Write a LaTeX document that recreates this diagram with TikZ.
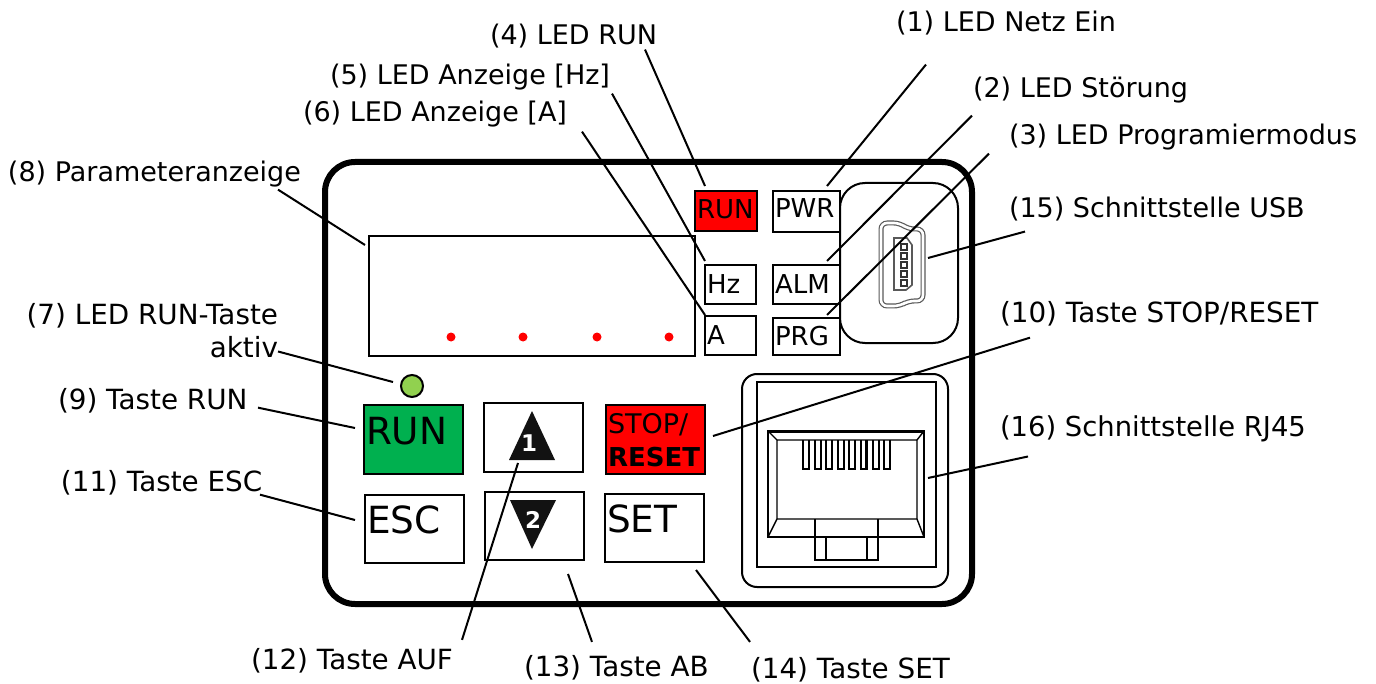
\documentclass[tikz,border=0pt]{standalone}
\usepackage{fontspec}
\setmainfont{DejaVu Sans}
\definecolor{led red}{rgb}{1, 0, 0}
\definecolor{key green}{rgb}{0, 0.69, 0.31}
\definecolor{led green}{rgb}{0.57, 0.82, 0.31}
\definecolor{arrow black}{rgb}{0.07, 0.07, 0.07}
\tikzset{
	lab/.style = {font=\fontsize{13.5}{16.5}\selectfont, inner sep=0pt, outer sep=0pt},
	wide lab/.style = {lab, font=\fontsize{13.9}{16.5}\selectfont},
	leader/.style = {line width=1pt},
	tbox/.style n args = {3}{text width=#1, text height=#2, text depth=#3},
	ledbox/.style = {draw, line width=1pt, font=\fontsize{13}{15}\selectfont, anchor=north west,
		inner xsep=1pt, inner ysep=0pt, outer sep=0pt, align=left},
	keybox/.style = {ledbox, font=\fontsize{18.7}{20}\selectfont},
	digit/.style = {text=white, font=\fontsize{11.5}{12}\bfseries\selectfont, inner sep=0pt}
}
\begin{document}
\begin{tikzpicture}[x=0.5pt, y=-0.5pt]
		\useasboundingbox (0, 0) rectangle (1376, 684);
		% housing
		\draw[line width=3pt, rounded corners=15pt] (325, 162) rectangle (972, 604);
		% display and its dots
		\draw[line width=1pt] (369, 236) rectangle (695, 356);
		\foreach \x in {451, 523, 597, 669}
			\fill[led red] (\x, 337) circle (4.5);
		% usb socket
		\begin{scope}
			\draw[line width=1pt, rounded corners=12.5pt] (840, 183) rectangle (958, 343);
			\draw[gray!70!black, line width=0.6pt, double=white, double distance=1.3pt, rounded corners=3pt]
				(881, 223) -- (900, 223) -- (908, 229) -- (923, 229) -- (923, 301)
				-- (908, 301) -- (900, 306) -- (881, 306) -- cycle;
			\draw[gray!70!black, line width=0.8pt]
				(894, 238) -- (907, 238) -- (912, 245) -- (912, 285) -- (906, 290) -- (894, 290) -- cycle;
			\foreach \y in {244, 253, 262, 271, 280}
				\draw[gray!40!black, line width=0.7pt] (901, \y) rectangle (907, \y + 6);
		\end{scope}
		% rj45 socket
		\begin{scope}
			\draw[line width=1pt, rounded corners=7.5pt] (742, 374) rectangle (948, 587);
			\draw[line width=1.3pt] (757, 382) rectangle (936, 567);
			\draw[line width=0.7pt] (768, 431) rectangle (924, 537);
			\draw[line width=0.7pt]
				(777, 440) rectangle (917, 519)
				(768, 431) -- (777, 440)
				(924, 431) -- (917, 440)
				(768, 537) -- (777, 519)
				(924, 537) -- (917, 519);
			\draw[line width=1.4pt] (768, 432) -- (924, 432);
			\foreach \x in {803, 815, 826, 838, 849, 861, 873, 884}
				\draw[line width=0.6pt] (\x, 440) -- (\x, 469) -- (\x + 6, 469) -- (\x + 6, 440);
			\draw[line width=1.2pt] (832, 440) -- (832, 469) (849, 440) -- (849, 469) (866, 440) -- (866, 469);
			\draw[line width=0.7pt]
				(815, 519) -- (815, 561)
				(878, 519) -- (878, 561)
				(826, 537) -- (826, 561)
				(815, 560) -- (878, 560);
			\draw[line width=1.2pt] (867, 537) -- (867, 561);
		\end{scope}
		% small boxes with the leds
		\node[ledbox, fill=led red, tbox={29pt}{14pt}{6pt}] (ledrun) at (695, 191) {RUN};
		\node[ledbox, fill=white, tbox={31.5pt}{13.5pt}{7pt}] (ledpwr) at (773, 191) {PWR};
		\node[ledbox, fill=white, tbox={23.5pt}{14pt}{5.5pt}] (ledhz) at (705, 265) {Hz};
		\node[ledbox, fill=white, tbox={31.5pt}{14pt}{5.5pt}] (ledalm) at (773, 265) {ALM};
		\node[ledbox, fill=white, tbox={23.5pt}{14pt}{5.5pt}] (leda) at (705, 316) {A};
		\node[ledbox, fill=white, tbox={31.5pt}{13.5pt}{5pt}] (ledprg) at (773, 318) {PRG};
		% keys
		\fill[led green] (412, 386) circle (11);
		\draw[line width=1pt] (412, 386) circle (11);
		\node[keybox, fill=key green, tbox={47.5pt}{19.5pt}{15pt}] (keyrun) at (364, 405) {RUN};
		\node[keybox, tbox={47.5pt}{19.5pt}{15pt}] (keyup) at (484, 403) {};
		\node[keybox, fill=led red, font=\fontsize{13.5}{16.5}\selectfont, tbox={47.5pt}{14pt}{20.5pt}] (keystop) at (606, 405)
			{STOP/\\{\fontsize{13}{16.5}\bfseries\selectfont RESET}};
		\node[keybox, tbox={47.5pt}{19pt}{15pt}] (keyesc) at (365, 495) {ESC};
		\node[keybox, tbox={47.5pt}{19pt}{15pt}] (keydown) at (485, 492) {};
		\node[keybox, tbox={47.5pt}{19pt}{15pt}] (keyset) at (605, 494) {SET};
		% arrows on the keys
		\fill[arrow black] (532, 411) -- (555, 460) -- (509, 460) -- cycle;
		\fill[arrow black] (510, 500) -- (556, 500) -- (532, 549) -- cycle;
		\node[digit] (digitup) at (529, 443) {1};
		\node[digit] (digitdown) at (533, 520) {2};
		% labels
		\node[lab, anchor=base west] (l1) at (896, 32) {(1) LED Netz Ein};
		\node[lab, anchor=base west] (l2) at (973, 98) {(2) LED Störung};
		\node[lab, anchor=base west] (l3) at (1009, 145) {(3) LED Programiermodus};
		\node[lab, anchor=base west] (l4) at (490, 45) {(4) LED RUN};
		\node[lab, anchor=base west] (l5) at (330, 85) {(5) LED Anzeige [Hz]};
		\node[lab, anchor=base west] (l6) at (303, 122) {(6) LED Anzeige [A]};
		\node[wide lab, anchor=north east, align=right] (l7) at (278, 303) {(7) LED RUN-Taste\\aktiv};
		\node[lab, anchor=base west] (l8) at (8, 182) {(8) Parameteranzeige};
		\node[wide lab, anchor=base west] (l9) at (58, 409) {(9) Taste RUN};
		\node[wide lab, anchor=base west] (l10) at (1000, 322) {(10) Taste STOP/RESET};
		\node[wide lab, anchor=base west] (l11) at (61, 491) {(11) Taste ESC};
		\node[wide lab, anchor=base west] (l12) at (251, 669) {(12) Taste AUF};
		\node[wide lab, anchor=base west] (l13) at (524, 676) {(13) Taste AB};
		\node[wide lab, anchor=base west] (l14) at (751, 678) {(14) Taste SET};
		\node[lab, anchor=base west] (l15) at (1009, 218) {(15) Schnittstelle USB};
		\node[lab, font=\fontsize{13.7}{16.5}\selectfont, anchor=base west] (l16) at (1000, 436) {(16) Schnittstelle RJ45};
		% free ends of the leaders
		\coordinate (t1) at ([shift={(54, -5)}]ledpwr.north west);
		\coordinate (t2) at ([shift={(54, -4)}]ledalm.north west);
		\coordinate (t3) at ([shift={(54, -3)}]ledprg.north west);
		\coordinate (t4) at ([shift={(10, -5)}]ledrun.north west);
		\coordinate (t5) at ([shift={(0, -4)}]ledhz.north west);
		\coordinate (t6) at ([shift={(0, -1)}]leda.north west);
		\coordinate (t7) at (393, 382);
		\coordinate (t8) at (365, 245);
		\coordinate (t9) at ([shift={(-9, 23)}]keyrun.north west);
		\coordinate (t10) at ([shift={(8, 31)}]keystop.north east);
		\coordinate (t11) at ([shift={(-10, 25)}]keyesc.north west);
		\coordinate (t12) at (518, 463);
		\coordinate (t13) at ([shift={(-16, 14)}]keydown.south east);
		\coordinate (t14) at ([shift={(-8, 8)}]keyset.south east);
		\coordinate (t15) at (928, 258);
		\coordinate (t16) at (928, 478);
		% leaders
		\draw[leader]
			([shift={(30, 29)}]l1.south west) -- (t1)
			([shift={(-1, 12)}]l2.south west) -- (t2)
			([shift={(-20, 3)}]l3.south west) -- (t3)
			([shift={(155, 1)}]l4.south west) -- (t4)
			([shift={(282, 3)}]l5.south west) -- (t5)
			([shift={(279, 4)}]l6.south west) -- (t6)
			([shift={(0, -6)}]l7.south east) -- (t7)
			([shift={(270, 2)}]l8.south west) -- (t8)
			([shift={(200, -5)}]l9.south west) -- (t9)
			([shift={(30, 12)}]l10.south west) -- (t10)
			([shift={(199, 0)}]l11.south west) -- (t11)
			([shift={(211, -8)}]l12.north west) -- (t12)
			([shift={(68, -13)}]l13.north west) -- (t13)
			([shift={(-1, -15)}]l14.north west) -- (t14)
			([shift={(16, 10)}]l15.south west) -- (t15)
			([shift={(28, 15)}]l16.south west) -- (t16);
\end{tikzpicture}
\end{document}
